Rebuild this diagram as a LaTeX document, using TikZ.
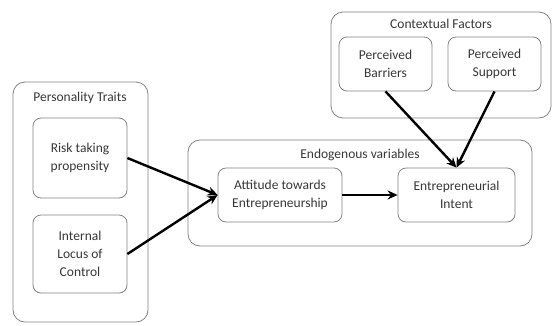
\documentclass[tikz,border=0pt]{standalone}
\usepackage{fontspec}
\setmainfont{Carlito}
\usetikzlibrary{arrows.meta, positioning}
\definecolor{boxgray}{RGB}{130, 130, 130}
\definecolor{textgray}{RGB}{55, 55, 55}
\tikzstyle{group} = [rectangle, rounded corners=12pt, draw=boxgray, line width=0.8pt, inner sep=0pt]
\tikzstyle{factor} = [rectangle, rounded corners=8pt, draw=boxgray, line width=0.8pt, align=center, text=textgray, font=\fontsize{13.5}{18}\selectfont]
\tikzstyle{grouptitle} = [text=textgray, font=\fontsize{13.5}{15}\selectfont]
\tikzstyle{arrow} = [line width=2.4pt, -{Stealth[length=10pt, width=9pt]}]

\begin{document}
\begin{tikzpicture}[x=1pt, y=-1pt]
\useasboundingbox (0,0) rectangle (553,325);

% Personality traits
\node (personality) [group, minimum width=135pt, minimum height=240pt] at (80.5,202) {};
\node (personality_title) [grouptitle] at (80,98) {Personality Traits};
\node (risk) [factor, minimum width=94pt, minimum height=80pt] at (80,158) {Risk taking\\propensity};
\node (locus) [factor, minimum width=94pt, minimum height=78pt] at (80,254) {Internal\\Locus of\\Control};

% Endogenous variables
\node (endo) [group, minimum width=344pt, minimum height=106pt] at (360,193) {};
\node (endo_title) [grouptitle] at (360,155) {Endogenous variables};
\node (attitude) [factor, minimum width=124pt, minimum height=54pt] at (280,195) {Attitude towards\\Entrepreneurship};
\node (intent) [factor, minimum width=117pt, minimum height=54pt] at (456.5,195) {Entrepreneurial\\Intent};

% Contextual factors
\node (context) [group, minimum width=220pt, minimum height=106pt] at (441,65) {};
\node (context_title) [grouptitle] at (441,24) {Contextual Factors};
\node (barriers) [factor, minimum width=93pt, minimum height=54pt] at (385.5,64) {Perceived\\Barriers};
\node (support) [factor, minimum width=93pt, minimum height=54pt] at (494.5,64) {Perceived\\Support};

% Paths
\draw [arrow] (risk.east) -- (attitude.west);
\draw [arrow] (locus.east) -- (attitude.west);
\draw [arrow] (attitude) -- (intent);
\draw [arrow] (barriers.south) -- (intent.north);
\draw [arrow] (support.south) -- (intent.north);

\end{tikzpicture}
\end{document}
